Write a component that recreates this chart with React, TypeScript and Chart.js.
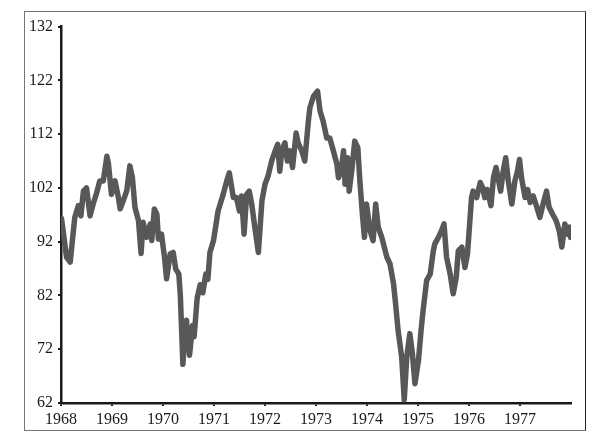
import React, { useEffect, useRef } from "react";
import { Chart, registerables } from "chart.js";

Chart.register(...registerables);

const dates: number[] = [
  1968.01, 1968.11, 1968.18, 1968.27, 1968.34, 1968.39, 1968.44, 1968.5, 1968.57, 1968.63,
  1968.7, 1968.76, 1968.83, 1968.9, 1968.93, 1968.99, 1969.06, 1969.12, 1969.16, 1969.22,
  1969.29, 1969.35, 1969.4, 1969.45, 1969.52, 1969.57, 1969.61, 1969.68, 1969.75, 1969.78,
  1969.83, 1969.88, 1969.91, 1969.97, 1970.03, 1970.07, 1970.14, 1970.2, 1970.25, 1970.31,
  1970.34, 1970.39, 1970.42, 1970.46, 1970.52, 1970.58, 1970.61, 1970.67, 1970.73, 1970.78,
  1970.84, 1970.88, 1970.92, 1970.99, 1971.08, 1971.18, 1971.25, 1971.3, 1971.38, 1971.44,
  1971.5, 1971.54, 1971.59, 1971.64, 1971.69, 1971.74, 1971.8, 1971.87, 1971.94, 1972.0,
  1972.06, 1972.13, 1972.2, 1972.25, 1972.29, 1972.33, 1972.39, 1972.44, 1972.49, 1972.54,
  1972.61, 1972.65, 1972.72, 1972.78, 1972.85, 1972.88, 1972.95, 1973.03, 1973.08, 1973.14,
  1973.21, 1973.27, 1973.34, 1973.41, 1973.44, 1973.49, 1973.54, 1973.57, 1973.62, 1973.65,
  1973.7, 1973.76, 1973.82, 1973.86, 1973.91, 1973.95, 1973.99, 1974.06, 1974.12, 1974.17,
  1974.22, 1974.29, 1974.39, 1974.45, 1974.52, 1974.56, 1974.61, 1974.68, 1974.73, 1974.78,
  1974.84, 1974.89, 1974.94, 1975.01, 1975.06, 1975.1, 1975.17, 1975.24, 1975.3, 1975.33,
  1975.4, 1975.46, 1975.51, 1975.56, 1975.63, 1975.69, 1975.75, 1975.79, 1975.86, 1975.92,
  1975.97, 1976.05, 1976.08, 1976.15, 1976.22, 1976.27, 1976.31, 1976.36, 1976.43, 1976.48,
  1976.53, 1976.57, 1976.62, 1976.67, 1976.72, 1976.77, 1976.84, 1976.9, 1976.95, 1976.99,
  1977.03, 1977.1, 1977.15, 1977.2, 1977.26, 1977.33, 1977.39, 1977.46, 1977.52, 1977.57,
  1977.64, 1977.71, 1977.77, 1977.82, 1977.88, 1977.93, 1977.97, 1977.99,
];

const values: number[] = [
  96.3, 89.1, 88.2, 96.5, 98.7, 96.8, 101.4, 102, 96.8, 99,
  101.1, 103.3, 103.3, 107.9, 106.5, 100.8, 103.3, 100.5, 98.1, 99.6,
  101.5, 106.1, 103.9, 98.4, 95.9, 89.8, 95.6, 92.8, 95.3, 92.2,
  98.1, 97.1, 92.5, 93.4, 89.1, 85.1, 89.7, 90, 86.9, 86,
  82, 69.2, 74, 77.4, 70.9, 76.4, 74.3, 81.5, 84, 82.5,
  86, 85, 90, 92.2, 97.7, 100.8, 103.3, 104.8, 100.2, 100.2,
  97.7, 100.5, 93.4, 100.8, 101.4, 99, 94.7, 90, 99.6, 102.7,
  104.2, 107, 108.9, 110.1, 105.1, 108.9, 110.4, 107, 108.9, 105.8,
  112.2, 110.4, 108.9, 107, 114.4, 116.9, 119, 120, 116.3, 114.4,
  111.3, 111.3, 108.9, 106.4, 103.9, 105.1, 108.9, 102.7, 107.6, 101.4,
  105.1, 110.7, 109.5, 103.3, 97.1, 92.8, 99, 94.1, 92.2, 99,
  94.7, 92.8, 89.1, 87.9, 84.2, 80.5, 75.5, 70.6, 62.6, 70.6,
  74.9, 71.2, 65.6, 70, 75.5, 79.2, 84.8, 86, 90.3, 91.6,
  92.8, 94, 95.3, 89.1, 86, 82.3, 85.4, 90.3, 91, 87.2,
  89.7, 100.2, 101.4, 100.2, 103, 102, 100.2, 101.7, 98.7, 103.9,
  105.8, 103.9, 101.4, 105.1, 107.6, 103.3, 99, 103.3, 105.1, 107.3,
  103.9, 100.2, 101.7, 99.3, 100.5, 98.4, 96.5, 99.3, 101.4, 98.4,
  97.1, 95.9, 94, 91, 95.3, 93.4, 94.7, 92.8,
];

const yearTicks: number[] = [1968, 1969, 1970, 1971, 1972, 1973, 1974, 1975, 1976, 1977];
const yTicks: number[] = [62, 72, 82, 92, 102, 112, 122, 132];

export default function App() {
  const ref = useRef<HTMLCanvasElement | null>(null);

  useEffect(() => {
    if (!ref.current) return;
    const font = { family: "'Liberation Serif', 'Times New Roman', serif", size: 16 };
    const chart = new Chart(ref.current, {
      type: "line",
      data: {
        datasets: [
          {
            data: dates.map((d, i) => ({ x: d, y: values[i] })),
            borderColor: "#585858",
            borderWidth: 5.5,
            pointRadius: 0,
            tension: 0,
            borderJoinStyle: "round",
            borderCapStyle: "round",
            fill: false,
          },
        ],
      },
      options: {
        animation: false,
        responsive: false,
        devicePixelRatio: 1,
        layout: { padding: { top: 13, right: 14, left: 0, bottom: 0 } },
        plugins: { legend: { display: false }, tooltip: { enabled: false } },
        scales: {
          x: {
            type: "linear",
            min: 1968,
            max: 1978,
            afterBuildTicks: (axis: any) => {
              axis.ticks = yearTicks.map((v) => ({ value: v }));
            },
            afterFit: (axis: any) => {
              axis.height = 27;
            },
            border: { display: true, color: "#1a1a1a", width: 2.5 },
            grid: { drawOnChartArea: false, drawTicks: true, tickLength: 3, color: "#1a1a1a", lineWidth: 2 },
            ticks: {
              color: "#1a1a1a",
              font,
              padding: 4,
              maxRotation: 0,
              autoSkip: false,
              callback: (v: any) => String(v),
            },
          },
          y: {
            min: 62,
            max: 132,
            afterBuildTicks: (axis: any) => {
              axis.ticks = yTicks.map((v) => ({ value: v }));
            },
            afterFit: (axis: any) => {
              axis.width = 36;
            },
            border: { display: true, color: "#1a1a1a", width: 2.5 },
            grid: { drawOnChartArea: false, drawTicks: true, tickLength: 3, color: "#1a1a1a", lineWidth: 2 },
            ticks: {
              color: "#1a1a1a",
              font,
              padding: 5,
              autoSkip: false,
              callback: (v: any) => String(v),
            },
          },
        },
      },
    } as any);
    return () => chart.destroy();
  }, []);

  return (
    <div
      style={{
        position: "fixed",
        left: 24,
        top: 11,
        width: 562,
        height: 420,
        boxSizing: "border-box",
        borderTop: "1px solid #777",
        borderLeft: "1px solid #777",
        borderBottom: "1px solid #777",
        borderRight: "1px solid #222",
        background: "#fff",
      }}
    >
      <canvas ref={ref} width={560} height={418} style={{ display: "block" }} />
    </div>
  );
}
